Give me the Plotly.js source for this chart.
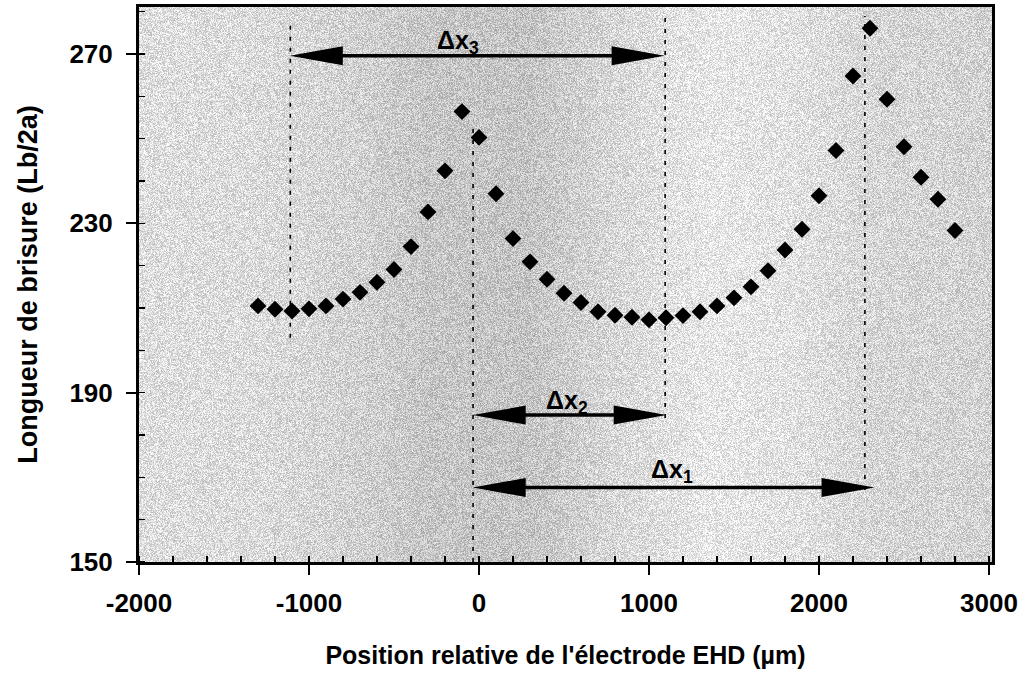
<!DOCTYPE html>
<html>
<head>
<meta charset="utf-8">
<script src="https://cdn.plot.ly/plotly-3.0.1.min.js"></script>
<style>
  html, body { margin: 0; padding: 0; background: #ffffff; }
  #chart { width: 1029px; height: 684px; }
</style>
</head>
<body>
<div id="chart"></div>
<script>
// ---- data ----
const positions = [-1300,-1200,-1100,-1000,-900,-800,-700,-600,-500,-400,-300,-200,-100,
  0,100,200,300,400,500,600,700,800,900,1000,1100,1200,1300,1400,1500,1600,1700,1800,1900,
  2000,2100,2200,2300,2400,2500,2600,2700,2800];
const breakLength = [210.5,209.7,209.3,209.8,210.5,212.1,213.7,216.1,219.1,224.5,232.7,242.4,256.4,
  250.3,237.0,226.4,220.9,216.8,213.5,211.3,209.1,208.3,207.8,207.2,207.7,208.2,209.1,210.5,212.4,
  215.0,218.8,223.7,228.6,236.5,247.2,264.8,276.1,259.3,248.1,240.9,235.7,228.3];

const xTickVals = [-2000,-1000,0,1000,2000,3000];
const yTickVals = [150,190,230,270];

// dashed reference lines
const guideX      = [-1110, -35, 1095, 2270];
const guideTop    = [278, 254, 279, 279];
const guideBottom = [203, 150, 184, 167];

// double arrows (Δx3, Δx2, Δx1)
const arrowLabels = ['Δx<sub>3</sub>', 'Δx<sub>2</sub>', 'Δx<sub>1</sub>'];
const arrowX0 = [-1113, -37, -37];
const arrowX1 = [1092, 1104, 2327];
const arrowY  = [269.6, 184.7, 167.6];
const labelX  = [-125, 516, 1138];
const labelY  = [272.8, 187.8, 171.5];

// ---- geometry ----
const W = 1029, H = 684;
const M = {l: 139, r: 37, t: 7, b: 122};
const plotW = W - M.l - M.r, plotH = H - M.t - M.b;
const xRange = [-2000, -2000 + plotW / 0.170];
const yRange = [150, 150 + plotH / 4.2333];
const ux = (xRange[1] - xRange[0]) / plotW;   // data units per px
const uy = (yRange[1] - yRange[0]) / plotH;

// ---- stippled grey background texture ----
function hash(i) {
  i = (i ^ 61) ^ (i >>> 16); i = i + (i << 3); i = i ^ (i >>> 4);
  i = Math.imul(i, 0x27d4eb2d); i = i ^ (i >>> 15);
  return (i >>> 0) / 4294967296;
}
const toneStops = [[0,222],[110,220],[210,210],[290,198],[390,196],[470,214],[570,232],[650,226],[730,214],[853,210]];
function tone(px) {
  for (let k = 1; k < toneStops.length; k++) {
    if (px <= toneStops[k][0]) {
      const a = toneStops[k-1], b = toneStops[k];
      return a[1] + (b[1]-a[1]) * (px - a[0]) / (b[0] - a[0]);
    }
  }
  return toneStops[toneStops.length-1][1];
}
const cv = document.createElement('canvas');
cv.width = plotW; cv.height = plotH;
const ctx = cv.getContext('2d');
const img = ctx.createImageData(plotW, plotH);
for (let y = 0; y < plotH; y++) {
  for (let x = 0; x < plotW; x++) {
    const h = hash(x * 7919 + y * 104729 + 17);
    let v = tone(x) + (h - 0.5) * 70;
    v = Math.max(0, Math.min(255, v));
    const o = (y * plotW + x) * 4;
    img.data[o] = img.data[o+1] = img.data[o+2] = v; img.data[o+3] = 255;
  }
}
ctx.putImageData(img, 0, 0);
const bgURL = cv.toDataURL('image/png');

// ---- shapes ----
const shapes = [];
guideX.forEach((gx, i) => {
  shapes.push({type: 'line', xref: 'x', yref: 'y', x0: gx, x1: gx, y0: guideBottom[i], y1: guideTop[i],
    line: {color: '#000', width: 1.6, dash: '4px,7px'}});
});
const headLen = 53 * ux, headHalf = 9.5 * uy;
arrowY.forEach((ay, i) => {
  const a = arrowX0[i], b = arrowX1[i];
  shapes.push({type: 'line', xref: 'x', yref: 'y', x0: a + headLen * 0.8, x1: b - headLen * 0.8, y0: ay, y1: ay,
    line: {color: '#000', width: 3.5}});
  shapes.push({type: 'path', xref: 'x', yref: 'y', fillcolor: '#000', line: {width: 0},
    path: `M${a},${ay} L${a + headLen},${ay + headHalf} L${a + headLen},${ay - headHalf} Z`});
  shapes.push({type: 'path', xref: 'x', yref: 'y', fillcolor: '#000', line: {width: 0},
    path: `M${b},${ay} L${b - headLen},${ay + headHalf} L${b - headLen},${ay - headHalf} Z`});
});

const annotations = arrowLabels.map((t, i) => ({
  x: labelX[i], y: labelY[i], xref: 'x', yref: 'y', text: t, showarrow: false,
  font: {family: 'Liberation Sans, Arial, sans-serif', size: 25, color: '#000', weight: 'bold'}
}));

const font = {family: 'Liberation Sans, Arial, sans-serif', color: '#000', weight: 'bold'};

const trace = {
  x: positions, y: breakLength, type: 'scatter', mode: 'markers',
  marker: {symbol: 'diamond', size: 13, color: '#000', line: {width: 0}},
  hoverinfo: 'x+y'
};

const layout = {
  width: W, height: H,
  margin: M,
  paper_bgcolor: '#ffffff',
  plot_bgcolor: 'rgba(0,0,0,0)',
  showlegend: false,
  images: [{source: bgURL, xref: 'paper', yref: 'paper', x: 0, y: 1, sizex: 1, sizey: 1,
    sizing: 'stretch', xanchor: 'left', yanchor: 'top', layer: 'below'}],
  xaxis: {
    range: xRange, tickvals: xTickVals, ticktext: xTickVals.map(String),
    showgrid: false, zeroline: false, showline: true, mirror: true, linecolor: '#000', linewidth: 3,
    ticks: 'outside', ticklen: 10, tickwidth: 2, tickcolor: '#000',
    minor: {dtick: 200, tick0: 0, ticks: 'inside', ticklen: 6, tickwidth: 1.5, tickcolor: '#000', showgrid: false},
    tickfont: Object.assign({size: 26}, font), ticklabelstandoff: 6,
    title: {text: "Position relative de l'électrode EHD (µm)", font: Object.assign({size: 25}, font), standoff: 30},
    automargin: false
  },
  yaxis: {
    range: yRange, tickvals: yTickVals, ticktext: yTickVals.map(String),
    showgrid: false, zeroline: false, showline: true, mirror: true, linecolor: '#000', linewidth: 3,
    ticks: 'outside', ticklen: 10, tickwidth: 2, tickcolor: '#000',
    minor: {dtick: 10, tick0: 150, ticks: 'inside', ticklen: 6, tickwidth: 1.5, tickcolor: '#000', showgrid: false},
    tickfont: Object.assign({size: 26}, font), ticklabelstandoff: 8,
    title: {text: 'Longueur de brisure (Lb/2a)', font: Object.assign({size: 27}, font), standoff: 24},
    automargin: false
  },
  shapes: shapes,
  annotations: annotations
};

Plotly.newPlot('chart', [trace], layout, {displayModeBar: false, staticPlot: true});
</script>
</body>
</html>
